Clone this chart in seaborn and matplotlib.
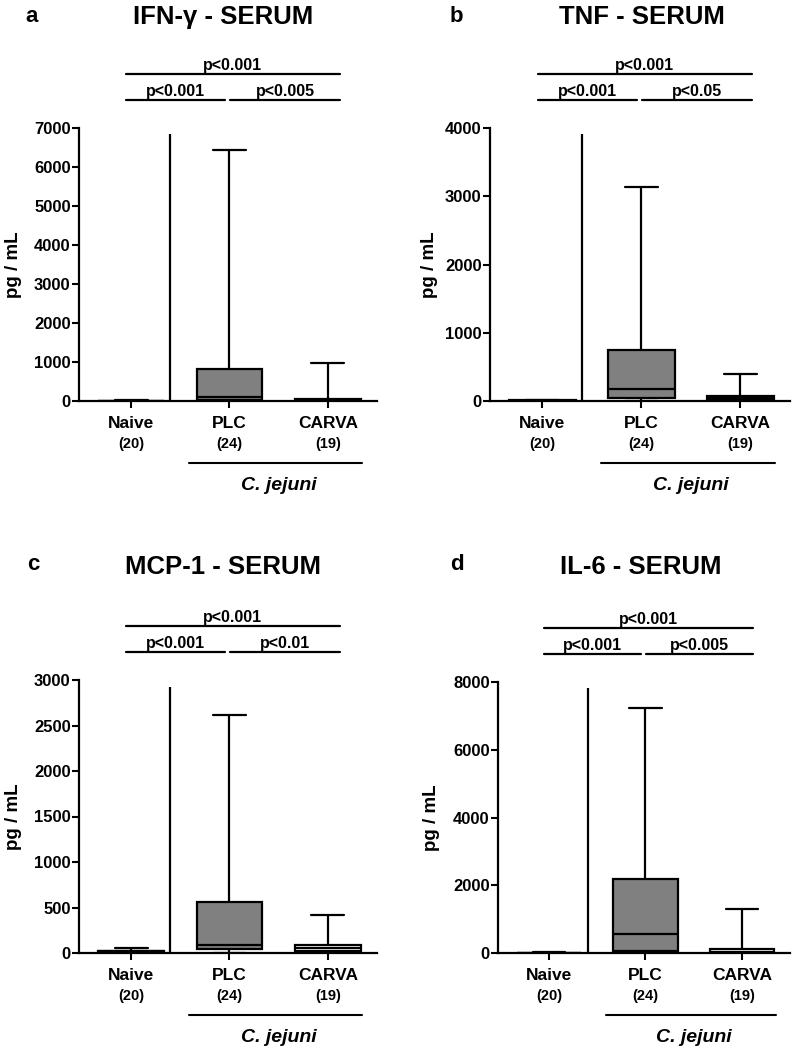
import pandas as pd
import matplotlib.pyplot as plt
import seaborn as sns

W, H = 797, 1050

groups = ['Naive', 'PLC', 'CARVA']
group_n = ['(20)', '(24)', '(19)']

# five-number summaries (min, Q1, median, Q3, max), pg/mL
ifn_naive = [0, 2, 5, 10, 15]
ifn_plc = [0, 20, 90, 820, 6430]
ifn_carva = [0, 5, 20, 50, 975]

tnf_naive = [0, 2, 5, 10, 20]
tnf_plc = [0, 45, 175, 745, 3130]
tnf_carva = [0, 10, 40, 80, 395]

mcp_naive = [0, 10, 20, 25, 60]
mcp_plc = [0, 45, 90, 555, 2615]
mcp_carva = [0, 20, 50, 90, 420]

il6_naive = [0, 2, 5, 10, 20]
il6_plc = [0, 50, 560, 2185, 7230]
il6_carva = [0, 10, 40, 130, 1300]

titles = ['IFN-γ - SERUM', 'TNF - SERUM', 'MCP-1 - SERUM', 'IL-6 - SERUM']
letters = ['a', 'b', 'c', 'd']
y_max = [7000, 4000, 3000, 8000]
y_step = [1000, 1000, 500, 2000]
separator_top = [6850, 3910, 2925, 7820]
p_all = ['p<0.001', 'p<0.001', 'p<0.001', 'p<0.001']
p_naive_plc = ['p<0.001', 'p<0.001', 'p<0.001', 'p<0.001']
p_plc_carva = ['p<0.005', 'p<0.05', 'p<0.01', 'p<0.005']

summaries = [
    [ifn_naive, ifn_plc, ifn_carva],
    [tnf_naive, tnf_plc, tnf_carva],
    [mcp_naive, mcp_plc, mcp_carva],
    [il6_naive, il6_plc, il6_carva],
]

# axes boxes in pixels: left, top, right, bottom
boxes = [(79, 128, 377, 401), (490, 128, 790, 401),
         (79, 680, 377, 953), (498, 682, 790, 953)]
title_pos = [(223, 17), (642, 17), (223, 567), (641, 567)]
letter_pos = [(32, 16), (456, 16), (33, 565), (457, 565)]
ylabel_x = [13, 430, 13, 432]

palette = {'Naive': 'white', 'PLC': '#808080', 'CARVA': 'white'}

sns.set_style('ticks')
plt.rcParams['font.family'] = ['Liberation Sans', 'DejaVu Sans']
plt.rcParams['font.weight'] = 'bold'
plt.rcParams['text.color'] = 'black'
plt.rcParams['axes.labelcolor'] = 'black'
plt.rcParams['axes.edgecolor'] = 'black'
plt.rcParams['xtick.color'] = 'black'
plt.rcParams['ytick.color'] = 'black'

fig = plt.figure(figsize=(W / 100, H / 100), dpi=100)

for i in range(4):
    left, top, right, bottom = boxes[i]
    ax = fig.add_axes([left / W, 1 - bottom / H, (right - left) / W, (bottom - top) / H])

    rows = []
    for g, vals in zip(groups, summaries[i]):
        for v in vals:
            rows.append({'group': g, 'value': v})
    df = pd.DataFrame(rows)

    sns.boxplot(data=df, x='group', y='value', order=groups, hue='group',
                palette=palette, legend=False, whis=(0, 100), width=0.67,
                linewidth=1.6, linecolor='black', ax=ax)

    # vertical separator between Naive and infected groups
    ax.vlines(0.4, 0, separator_top[i], color='black', lw=1.6)

    ax.set_xlim(-0.53, 2.5)
    ax.set_ylim(0, y_max[i])
    ax.set_yticks(range(0, y_max[i] + 1, y_step[i]))
    ax.set_xlabel('')
    ax.set_ylabel('pg / mL', fontsize=13.5, fontweight='bold', va='center')
    ax.yaxis.set_label_coords((ylabel_x[i] - left) / (right - left), 0.5)
    ax.tick_params(axis='y', labelsize=12, width=1.5, length=5, pad=1)
    ax.tick_params(axis='x', labelsize=12.5, width=1.5, length=5, pad=6)
    for lab in ax.get_xticklabels() + ax.get_yticklabels():
        lab.set_fontweight('bold')
    for s in ['top', 'right']:
        ax.spines[s].set_visible(False)
    for s in ['left', 'bottom']:
        ax.spines[s].set_linewidth(1.6)

    h = bottom - top
    tr = ax.get_xaxis_transform()
    for x, n in enumerate(group_n):
        ax.text(x, -43 / h, n, transform=tr, ha='center', va='center',
                fontsize=10.5, fontweight='bold')
    ax.plot([0.59, 2.35], [-62 / h, -62 / h], transform=tr, color='black',
            lw=1.5, clip_on=False)
    ax.text(1.5, -84 / h, 'C. jejuni', transform=tr, ha='center', va='center',
            fontsize=14, fontweight='bold', fontstyle='italic')

    # significance bars
    y_top = 1 + 54 / h
    y_low = 1 + 28 / h
    ax.plot([-0.05, 2.12], [y_top, y_top], transform=tr, color='black', lw=1.6, clip_on=False)
    ax.text(1.03, y_top + 1 / h, p_all[i], transform=tr, ha='center', va='bottom',
            fontsize=11.5, fontweight='bold')
    ax.plot([-0.05, 0.95], [y_low, y_low], transform=tr, color='black', lw=1.6, clip_on=False)
    ax.text(0.45, y_low + 1 / h, p_naive_plc[i], transform=tr, ha='center', va='bottom',
            fontsize=11.5, fontweight='bold')
    ax.plot([1.01, 2.12], [y_low, y_low], transform=tr, color='black', lw=1.6, clip_on=False)
    ax.text(1.565, y_low + 1 / h, p_plc_carva[i], transform=tr, ha='center', va='bottom',
            fontsize=11.5, fontweight='bold')

    fig.text(title_pos[i][0] / W, 1 - title_pos[i][1] / H, titles[i], ha='center',
             va='center', fontsize=18.5, fontweight='bold')
    fig.text(letter_pos[i][0] / W, 1 - letter_pos[i][1] / H, letters[i], ha='center',
             va='center', fontsize=16, fontweight='bold')

fig.savefig('out.png', dpi=100)
